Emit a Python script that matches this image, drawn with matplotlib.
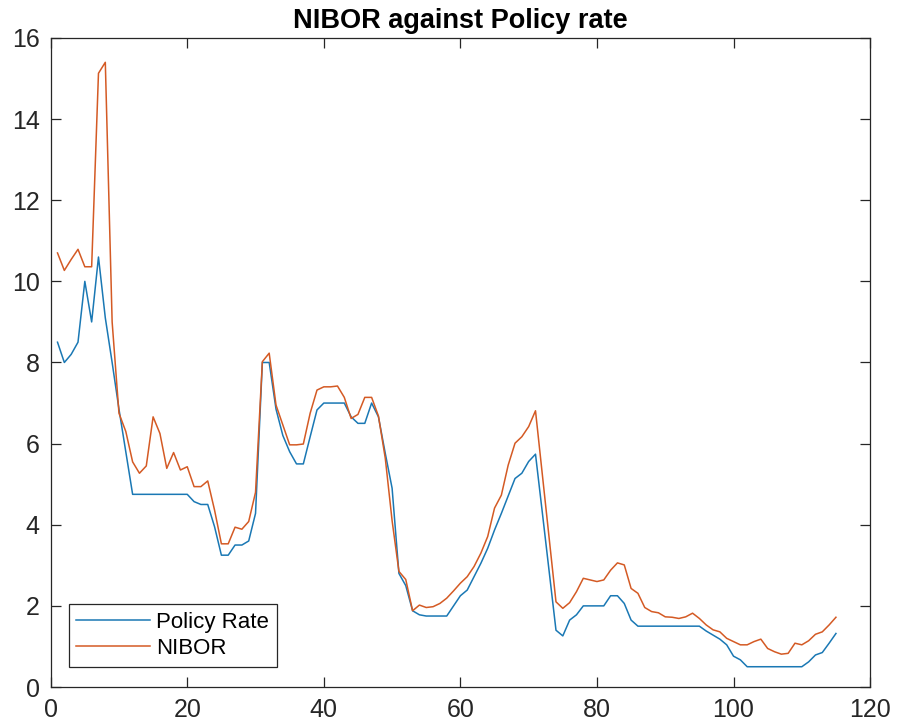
import matplotlib
matplotlib.use("Agg")
import matplotlib.pyplot as plt
import numpy as np

months = list(range(1, 116))

policy_rate = [
    8.5, 8.0, 8.2, 8.5, 10.0, 9.0, 10.6, 9.1, 8.0, 6.85,
    5.8, 4.75, 4.75, 4.75, 4.75, 4.75, 4.75, 4.75, 4.75, 4.75,
    4.57, 4.5, 4.5, 3.95, 3.25, 3.25, 3.5, 3.5, 3.6, 4.28,
    8.0, 8.0, 6.85, 6.2, 5.8, 5.5, 5.5, 6.17, 6.83, 7.0,
    7.0, 7.0, 7.0, 6.66, 6.5, 6.5, 7.0, 6.66, 5.76, 4.9,
    2.8, 2.5, 1.88, 1.78, 1.75, 1.75, 1.75, 1.75, 2.0, 2.25,
    2.39, 2.72, 3.05, 3.42, 3.87, 4.28, 4.71, 5.14, 5.27, 5.56,
    5.74, 4.3, 2.85, 1.4, 1.26, 1.65, 1.78, 2.0, 2.0, 2.0,
    2.0, 2.25, 2.25, 2.06, 1.65, 1.5, 1.5, 1.5, 1.5, 1.5,
    1.5, 1.5, 1.5, 1.5, 1.5, 1.38, 1.28, 1.18, 1.04, 0.76,
    0.67, 0.5, 0.5, 0.5, 0.5, 0.5, 0.5, 0.5, 0.5, 0.5,
    0.62, 0.79, 0.85, 1.08, 1.32,
]

nibor = [
    10.7, 10.27, 10.54, 10.79, 10.36, 10.36, 15.13, 15.4, 9.0, 6.75,
    6.3, 5.55, 5.27, 5.45, 6.66, 6.25, 5.39, 5.78, 5.35, 5.43,
    4.94, 4.94, 5.08, 4.36, 3.53, 3.53, 3.94, 3.89, 4.08, 4.8,
    8.02, 8.23, 6.95, 6.46, 5.97, 5.97, 5.99, 6.75, 7.32, 7.40,
    7.40, 7.42, 7.14, 6.62, 6.72, 7.14, 7.14, 6.68, 5.64, 4.1,
    2.85, 2.65, 1.88, 2.02, 1.96, 1.98, 2.06, 2.19, 2.37, 2.56,
    2.72, 2.97, 3.30, 3.71, 4.41, 4.73, 5.47, 6.01, 6.17, 6.42,
    6.81, 5.24, 3.67, 2.10, 1.94, 2.08, 2.35, 2.68, 2.64, 2.60,
    2.64, 2.88, 3.06, 3.01, 2.43, 2.31, 1.96, 1.86, 1.83, 1.73,
    1.72, 1.69, 1.73, 1.82, 1.69, 1.53, 1.41, 1.36, 1.20, 1.12,
    1.04, 1.04, 1.12, 1.18, 0.95, 0.87, 0.81, 0.83, 1.08, 1.04,
    1.14, 1.30, 1.36, 1.53, 1.72,
]

series_labels = ["Policy Rate", "NIBOR"]
title_text = "NIBOR against Policy rate"
x_ticks = [0, 20, 40, 60, 80, 100, 120]
y_ticks = [0, 2, 4, 6, 8, 10, 12, 14, 16]

plt.rcParams['font.family'] = ['Liberation Sans', 'DejaVu Sans']

fig = plt.figure(figsize=(8.97, 7.26), dpi=100)
ax = fig.add_axes([0.0565, 0.0537, 0.9135, 0.894])

ax.plot(months, policy_rate, color='#1a78b4', lw=1.1, label=series_labels[0])
ax.plot(months, nibor, color='#d45a24', lw=1.1, label=series_labels[1])

ax.set_xlim(0, 120)
ax.set_ylim(0, 16)
ax.set_xticks(x_ticks)
ax.set_yticks(y_ticks)

axcol = '#262626'
for s in ax.spines.values():
    s.set_color(axcol)
    s.set_linewidth(0.9)
ax.tick_params(direction='in', length=7, width=0.9, colors=axcol,
               labelsize=18, top=True, right=True, pad=8)
for lab in ax.get_xticklabels() + ax.get_yticklabels():
    lab.set_color('#262626')

ax.set_title(title_text, fontsize=19.5, fontweight='bold', color='black', pad=7)

leg = ax.legend(loc='lower left', bbox_to_anchor=(0.022, 0.031), borderaxespad=0,
                fontsize=16, handlelength=3.3, handletextpad=0.3,
                labelspacing=0.25, borderpad=0.35, fancybox=False,
                framealpha=1, edgecolor='#262626')
leg.get_frame().set_linewidth(0.9)

fig.savefig('out.png', dpi=100)
